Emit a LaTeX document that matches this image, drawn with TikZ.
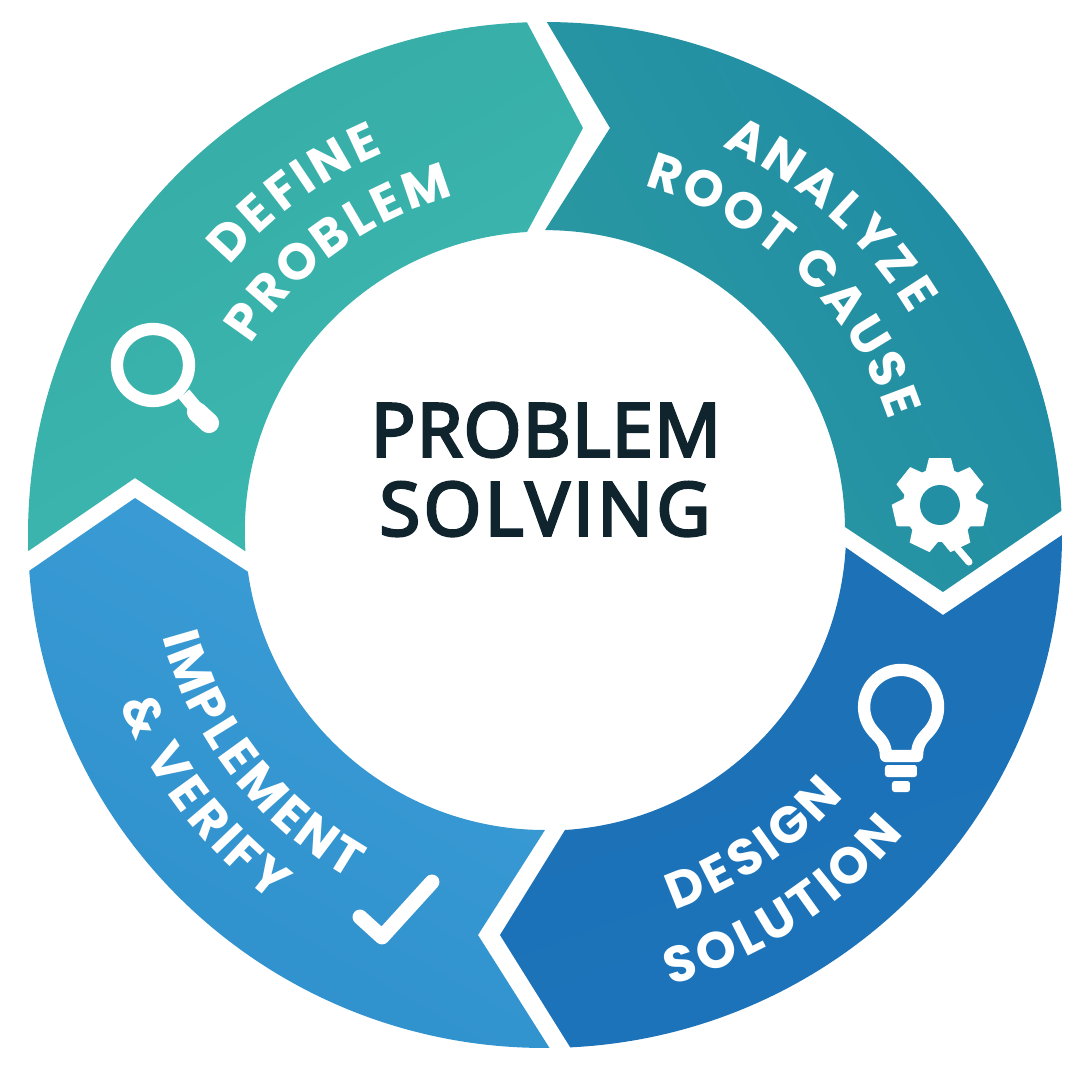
\documentclass[tikz,border=0pt]{standalone}
\usepackage{fontspec}
\setmainfont{Open Sans}
\newfontfamily\headfont{Open Sans}[FakeBold=4,LetterSpace=2]
\newfontfamily\headwide{Open Sans}[FakeBold=4,LetterSpace=5]
\newfontfamily\ringfont{Poppins}
\definecolor{inkdark}{HTML}{10242E}
\definecolor{tealA}{HTML}{3CB9B0}
\definecolor{tealB}{HTML}{36ABA6}
\definecolor{cyanA}{HTML}{2A9AA0}
\definecolor{cyanB}{HTML}{1F8AA6}
\definecolor{navyA}{HTML}{1C74BA}
\definecolor{navyB}{HTML}{1D70B5}
\definecolor{blueA}{HTML}{3C9DD6}
\definecolor{blueB}{HTML}{2E90CC}
\newcommand\ringfmt{\fontsize{29}{29}\ringfont\bfseries\selectfont}
% #1 letter/width(em) list, #2 baseline radius px, #3 mid angle, #4 direction, #5 extra spacing px
\newcommand\ringword[5]{%
  \gdef\rwtot{0}%
  \foreach \lt/\lw in {#1} {%
    \pgfmathsetmacro\rwn{\rwtot+\lw*51.2+#5}%
    \global\let\rwtot\rwn
  }%
  \gdef\rwpos{0}%
  \foreach \lt/\lw in {#1} {%
    \pgfmathsetmacro\rwa{#3-(#4)*(\rwpos+\lw*25.6-\rwtot/2)/#2*57.2958}%
    \pgfmathsetmacro\rwr{\rwa-(#4)*90}%
    \node[ringletter,rotate=\rwr] at (\rwa:#2) {\lt};
    \pgfmathsetmacro\rwn{\rwpos+\lw*51.2+#5}%
    \global\let\rwpos\rwn
  }%
}
\tikzset{
  ringletter/.style={text=white,font=\ringfmt,inner sep=0pt,anchor=base},
  iconline/.style={draw=white,line width=7pt,line cap=round,line join=round},
  iconfill/.style={fill=white,rounded corners=1.5pt},
  heading/.style={text=inkdark,font=\fontsize{42}{42}\headfont,inner sep=0pt,anchor=center},
  outerarc/.style={x radius=517,y radius=513}
}
\begin{document}
\begin{tikzpicture}[x=0.02cm,y=0.02cm]
\useasboundingbox (-545,-546) rectangle (535,534);
\shade[left color=tealB,right color=tealA,shading angle=30]
  (0,-1) ++(181.8:517 and 513) arc[start angle=181.8,end angle=92,outerarc]
  -- (38,406) -- (-18,302)
  arc[start angle=93.4,end angle=183.8,radius=300]
  -- (-410,56) -- cycle;
\shade[left color=cyanA,right color=cyanB,shading angle=120]
  (0,-1) ++(89.8:517 and 513) arc[start angle=89.8,end angle=2.7,outerarc]
  -- (398,-58) -- (300,7)
  arc[start angle=0.6,end angle=90,radius=300]
  -- (65,406) -- cycle;
\shade[left color=navyA,right color=navyB,shading angle=200]
  (0,-1) ++(0:517 and 513) arc[start angle=0,end angle=-87.2,outerarc]
  -- (-45,-401) -- (20,-296)
  arc[start angle=-86.4,end angle=-3.2,radius=300]
  -- (398,-81) -- cycle;
\shade[left color=blueA,right color=blueB,shading angle=330]
  (0,-1) ++(184:517 and 513) arc[start angle=184,end angle=270.5,outerarc]
  -- (-67,-401) -- (0,-296)
  arc[start angle=270,end angle=188,radius=300]
  -- (-410,36) -- cycle;
\node[heading] (t1) at (1,104) {PROBLEM};
\node[heading,font=\fontsize{42}{42}\headwide] (t2) at (0,25) {SOLVING};
\ringword{D/.73,E/.59,F/.56,I/.29,N/.74,E/.59}{414}{126}{1}{3}
\ringword{P/.65,R/.66,O/.8,B/.68,L/.52,E/.59,M/.92}{350}{126}{1}{2}
\ringword{A/.76,N/.74,A/.76,L/.52,Y/.7,Z/.62,E/.59}{426}{48}{1}{3}
\ringword{R/.66,O/.8,O/.8,T/.62,~/.25,C/.75,A/.76,U/.71,S/.62,E/.59}{362}{46}{1}{2}
\ringword{D/.73,E/.59,S/.62,I/.29,G/.77,N/.74}{398}{-56}{-1}{3}
\ringword{S/.62,O/.8,L/.52,U/.71,T/.62,I/.29,O/.8,N/.74}{468}{-57}{-1}{3}
\ringword{I/.29,M/.92,P/.65,L/.52,E/.59,M/.92,E/.59,N/.74,T/.62}{396}{218}{-1}{2}
\ringword{\&/.72,~/.25,V/.74,E/.59,R/.66,I/.29,F/.56,Y/.7}{458}{218}{-1}{3}
\begin{scope}[x=0.02cm,y=-0.02cm,shift={(-545,-534)}]
  \draw[iconline] (153,365) circle[radius=36];
  \draw[iconline,line cap=butt,line width=8pt] (184,394) -- (199,412);
  \draw[iconline,line width=11.5pt] (197,412) -- (209,423);
  \fill[white] (940,505) circle[radius=37];
  \foreach \a in {-90,-38.6,12.9,115.7,167.1,218.6,64.3} {
    \fill[white,rotate around={\a+90:(940,505)}] (924,478) -- (929,458) -- (951,458) -- (956,478) -- cycle;
  }
  \fill[cyanB!70!cyanA] (940,505) circle[radius=20];
  \draw[iconline,line width=4pt] (955,535) -- (957,548) -- (969,562);
  \draw[iconline] (886,756) .. controls (886,742) and (878,737) .. (873,731)
     arc[start angle=139.4,end angle=400.6,radius=37]
     .. controls (924,737) and (917,742) .. (917,756) -- cycle;
  \fill[iconfill] (885,765) rectangle (917,777);
  \fill[iconfill] (892,781) rectangle (910,792);
  \draw[iconline,line width=8.5pt] (360,917) -- (382,937) -- (432,882);
\end{scope}
\end{tikzpicture}
\end{document}
